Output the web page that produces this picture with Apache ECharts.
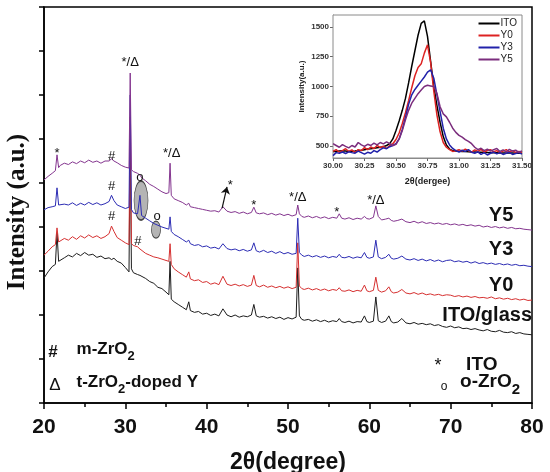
<!DOCTYPE html>
<html>
<head>
<meta charset="utf-8">
<script src="https://cdn.jsdelivr.net/npm/echarts@6/dist/echarts.min.js"></script>
<style>
html, body { margin: 0; padding: 0; background: #fff; }
#chart { width: 550px; height: 472px; }
</style>
</head>
<body>
<div id="chart"></div>
<script>
'use strict';

// main XRD patterns, stacked (arbitrary units, offset per sample)
var twoTheta = [
	20.0, 20.5, 21.0, 21.4, 21.6, 21.8, 22.0,
	22.5, 23.0, 23.5, 24.0, 24.5, 25.0, 25.5, 26.0, 26.5, 27.0, 27.5, 28.0,
	28.3, 28.6, 29.0, 29.5, 30.0,
	30.45, 30.6, 30.75, 31.0, 31.5, 31.8, 32.0,
	32.5, 33.0, 33.5, 34.0, 34.5, 35.0,
	35.35, 35.5, 35.65, 36.0, 36.5, 37.0, 37.5, 37.8, 38.0,
	38.5, 39.0, 39.5, 40.0, 40.5, 41.0, 41.5, 42.0, 42.5, 43.0,
	43.5, 44.0, 44.5, 45.0, 45.5, 45.8, 46.1, 46.5, 47.0,
	47.5, 48.0, 48.5, 49.0, 49.5, 50.0, 50.5, 51.0,
	51.2, 51.4, 51.7, 52.0,
	52.5, 53.0, 53.5, 54.0, 54.5, 55.0, 55.5, 56.0,
	56.3, 56.6, 57.0, 57.5, 58.0, 58.5, 59.0, 59.4, 59.7, 60.0,
	60.5, 60.8, 61.1, 61.5, 62.0, 62.4, 62.7, 63.0,
	63.5, 64.0, 64.5, 65.0, 65.5, 66.0, 66.5, 67.0, 67.5, 68.0,
	68.5, 69.0, 69.5, 70.0, 70.5, 71.0, 71.5, 72.0, 72.5, 73.0,
	73.5, 74.0, 74.5, 75.0, 75.5, 76.0, 76.5, 77.0, 77.5, 78.0,
	78.5, 79.0, 79.5, 80.0
];

var itoGlass = [
	2.84, 2.98, 3.1, 3.15, 3.86, 3.22, 3.25,
	3.3, 3.36, 3.32, 3.4, 3.35, 3.42, 3.36, 3.38, 3.31, 3.34, 3.28, 3.3,
	3.26, 3.29, 3.22, 3.18, 3.08,
	2.98, 6.0, 3.05, 2.96, 2.92, 2.9, 2.86,
	2.83, 2.76, 2.72, 2.63, 2.6, 2.52,
	2.46, 3.22, 2.36, 2.3, 2.24, 2.18, 2.12, 2.3, 2.1,
	2.06, 2.08, 2.02, 2.04, 1.99, 2.02, 1.98, 2.14, 2.0, 1.96,
	2.0, 1.95, 1.98, 1.96, 2.0, 2.24, 1.98, 1.95, 1.97,
	1.93, 1.96, 1.92, 1.95, 1.9, 1.94, 1.91, 1.95,
	3.07, 1.98, 1.9, 1.88,
	1.9, 1.86, 1.89, 1.85, 1.88, 1.84, 1.87, 1.85,
	1.92, 1.85, 1.83, 1.86, 1.82, 1.85, 1.84, 1.98, 1.85, 1.83,
	1.86, 2.41, 1.87, 1.83, 1.86, 1.98, 1.85, 1.82,
	1.84, 1.92, 1.82, 1.8, 1.83, 1.79, 1.81, 1.78, 1.8, 1.76,
	1.78, 1.74, 1.72, 1.75, 1.71, 1.73, 1.69, 1.7, 1.67, 1.69,
	1.66, 1.64, 1.67, 1.63, 1.62, 1.65, 1.61, 1.6, 1.62, 1.58,
	1.6, 1.57, 1.56, 1.55
];

var sampleY0 = [
	3.36, 3.45, 3.55, 3.6, 3.98, 3.66, 3.7,
	3.74, 3.7, 3.78, 3.72, 3.8, 3.75, 3.82, 3.76, 3.8, 3.74, 3.78, 3.85,
	4.02, 3.9, 3.76, 3.7, 3.64,
	3.6, 6.5, 3.62, 3.58, 3.55, 3.5, 3.46,
	3.4, 3.36, 3.32, 3.3, 3.27, 3.24,
	3.22, 3.62, 3.15, 3.05, 2.98, 2.92, 2.86, 2.98, 2.82,
	2.78, 2.8, 2.74, 2.76, 2.7, 2.73, 2.69, 2.88, 2.7, 2.67,
	2.7, 2.66, 2.69, 2.65, 2.68, 2.9, 2.67, 2.64, 2.68,
	2.63, 2.66, 2.62, 2.65, 2.61, 2.64, 2.6, 2.63,
	3.64, 2.66, 2.6, 2.58,
	2.61, 2.57, 2.6, 2.56, 2.59, 2.55, 2.58, 2.56,
	2.62, 2.55, 2.54, 2.57, 2.53, 2.56, 2.54, 2.68, 2.55, 2.53,
	2.56, 2.86, 2.56, 2.52, 2.55, 2.64, 2.53, 2.5,
	2.52, 2.58, 2.5, 2.48, 2.51, 2.47, 2.5, 2.46, 2.48, 2.45,
	2.47, 2.44, 2.46, 2.45, 2.42, 2.44, 2.41, 2.43, 2.4, 2.42,
	2.39, 2.4, 2.38, 2.41, 2.37, 2.39, 2.36, 2.38, 2.35, 2.37,
	2.34, 2.36, 2.33, 2.34
];

var sampleY3 = [
	4.39, 4.44, 4.46, 4.48, 4.89, 4.5, 4.48,
	4.52, 4.5, 4.55, 4.49, 4.54, 4.5, 4.56, 4.51, 4.55, 4.5, 4.53, 4.58,
	4.72, 4.6, 4.5, 4.46, 4.42,
	4.45, 7.0, 4.4, 4.32, 4.3, 4.72, 4.26,
	4.2, 4.14, 4.08, 4.04, 4.0, 3.97,
	3.95, 4.23, 3.9, 3.83, 3.78, 3.72, 3.66, 3.7, 3.62,
	3.58, 3.6, 3.55, 3.57, 3.52, 3.54, 3.5, 3.62, 3.51, 3.48,
	3.5, 3.46, 3.49, 3.45, 3.48, 3.64, 3.46, 3.43, 3.47,
	3.42, 3.45, 3.4, 3.44, 3.39, 3.42, 3.38, 3.4,
	4.2, 3.42, 3.36, 3.33,
	3.36, 3.32, 3.35, 3.31, 3.34, 3.3, 3.33, 3.31,
	3.38, 3.31, 3.3, 3.33, 3.29, 3.32, 3.3, 3.42, 3.31, 3.29,
	3.32, 3.7, 3.32, 3.28, 3.31, 3.38, 3.29, 3.27,
	3.29, 3.34, 3.27, 3.25, 3.28, 3.24, 3.27, 3.23, 3.26, 3.22,
	3.25, 3.21, 3.24, 3.25, 3.21, 3.23, 3.2, 3.22, 3.18, 3.21,
	3.17, 3.19, 3.16, 3.18, 3.15, 3.17, 3.14, 3.16, 3.13, 3.15,
	3.12, 3.13, 3.11, 3.1
];

var sampleY5 = [
	5.07, 5.15, 5.22, 5.28, 5.64, 5.35, 5.4,
	5.45, 5.42, 5.48, 5.44, 5.5, 5.46, 5.52, 5.47, 5.5, 5.45, 5.5, 5.5,
	5.55, 5.5, 5.46, 5.4, 5.36,
	5.34, 7.5, 5.3, 5.26, 5.22, 5.18, 5.12,
	5.05, 4.97, 4.92, 4.86, 4.8, 4.76,
	4.78, 5.45, 4.72, 4.64, 4.6, 4.56, 4.5, 4.54, 4.46,
	4.44, 4.42, 4.4, 4.38, 4.36, 4.37, 4.34, 4.46, 4.36, 4.33,
	4.35, 4.31, 4.34, 4.3, 4.33, 4.45, 4.32, 4.3, 4.32,
	4.28, 4.31, 4.27, 4.3, 4.26, 4.29, 4.25, 4.28,
	4.5, 4.3, 4.24, 4.22,
	4.25, 4.21, 4.24, 4.2, 4.23, 4.19, 4.22, 4.2,
	4.3, 4.2, 4.18, 4.21, 4.17, 4.2, 4.18, 4.24, 4.19, 4.18,
	4.22, 4.48, 4.24, 4.16, 4.18, 4.2, 4.15, 4.13,
	4.15, 4.18, 4.12, 4.1, 4.13, 4.09, 4.12, 4.08, 4.1, 4.07,
	4.09, 4.06, 4.08, 4.05, 4.07, 4.04, 4.06, 4.03, 4.05, 4.02,
	4.04, 4.0, 4.02, 3.99, 4.01, 3.98, 4.0, 3.97, 3.99, 3.96,
	3.97, 3.95, 3.94, 3.93
];

// inset: zoom on the ~30.7 degree reflection
var insetTheta = [
	30, 30.025, 30.05, 30.075, 30.1, 30.125, 30.15, 30.175, 30.2, 30.225,
	30.25, 30.275, 30.3, 30.325, 30.35, 30.375, 30.4, 30.425, 30.45, 30.475,
	30.5, 30.525, 30.55, 30.575, 30.6, 30.625, 30.65, 30.675, 30.7, 30.725,
	30.75, 30.775, 30.8, 30.825, 30.85, 30.875, 30.9, 30.925, 30.95, 30.975,
	31, 31.025, 31.05, 31.075, 31.1, 31.125, 31.15, 31.175, 31.2, 31.225,
	31.25, 31.275, 31.3, 31.325, 31.35, 31.375, 31.4, 31.425, 31.45, 31.475,
	31.5
];
var insetIto = [
	455, 455, 458, 460, 458, 455, 455, 458, 462, 465,
	470, 475, 478, 482, 486, 490, 495, 505, 520, 560,
	630, 710, 800, 900, 1030, 1170, 1300, 1430, 1530, 1550,
	1420, 1210, 1000, 840, 700, 580, 510, 475, 462, 458,
	456, 455, 454, 452, 451, 450, 449, 448, 447, 446,
	445, 445, 444, 443, 443, 442, 441, 441, 440, 440,
	440
];
var insetY0 = [
	455, 470, 448, 462, 478, 455, 468, 445, 470, 462,
	488, 470, 492, 478, 505, 488, 498, 480, 505, 520,
	555, 610, 690, 780, 880, 990, 1090, 1160, 1190, 1280,
	1350, 1200, 960, 760, 620, 530, 490, 470, 455, 462,
	470, 458, 475, 462, 450, 468, 455, 472, 448, 465,
	470, 452, 462, 445, 458, 470, 450, 462, 445, 455,
	448
];
var insetY3 = [
	420, 445, 440, 450, 438, 452, 445, 440, 458, 445,
	432, 448, 440, 462, 450, 470, 485, 478, 495, 505,
	520, 560, 640, 740, 850, 930, 975, 1010, 1045, 1080,
	1120, 1140, 1070, 930, 790, 650, 560, 510, 480, 462,
	450, 465, 455, 470, 448, 440, 452, 430, 445, 425,
	440, 450, 435, 445, 430, 440, 448, 430, 438, 445,
	432
];
var insetY5 = [
	520, 505, 490, 512, 498, 485, 505, 492, 530, 510,
	498, 515, 505, 525, 510, 530, 518, 535, 520, 505,
	515, 560, 630, 720, 800, 860, 900, 940, 970, 1000,
	1010, 1005, 1000, 940, 830, 770, 745, 700, 650, 615,
	590, 575, 555, 540, 520, 490, 470, 482, 462, 475,
	458, 470, 480, 455, 468, 450, 472, 458, 465, 448,
	460
];
var insetTicks = [500, 750, 1000, 1250, 1500];

// peak markers [2theta, offset, text]
var peakNotes = [
	[21.6, 5.68, '*'],
	[28.3, 5.61, '#'],
	[28.3, 4.93, '#'],
	[28.3, 4.23, '#'],
	[31.55, 3.68, '#'],
	[31.8, 5.12, 'o'],
	[33.9, 4.25, 'o'],
	[30.6, 7.73, '*/\u0394'],
	[35.7, 5.68, '*/\u0394'],
	[42.9, 4.95, '*'],
	[45.8, 4.48, '*'],
	[51.2, 4.68, '*/\u0394'],
	[56.0, 4.32, '*'],
	[60.8, 4.61, '*/\u0394']
];
var ellipseNotes = [
	[31.93, 4.6, 14, 39],
	[33.77, 3.94, 9, 17]
];
var arrowFrom = [41.9, 4.43],
		arrowTo = [42.5, 4.91];

var traceLabels = [
	[76.2, 4.27, 'Y5'],
	[76.2, 3.48, 'Y3'],
	[76.2, 2.68, 'Y0']
];

var colors = {
	ito: '#1c1c1c',
	y0: '#d63030',
	y3: '#2c2cb4',
	y5: '#84358f'
};

var sans = 'Liberation Sans, Arial, sans-serif';
var ink = '#111';

function pairs(xs, ys) {
	var out = [];
	for (var i = 0; i < xs.length && i < ys.length; i++) {
		out.push([xs[i], ys[i]]);
	}
	return out;
}

function mainLine(name, values, color) {
	return {
		name: name,
		type: 'line',
		xAxisIndex: 0,
		yAxisIndex: 0,
		data: pairs(twoTheta, values),
		symbol: 'none',
		silent: true,
		lineStyle: {width: 1, color: color},
		itemStyle: {color: color},
		z: 3
	};
}

function insetLine(name, values, color) {
	return {
		name: name,
		type: 'line',
		xAxisIndex: 1,
		yAxisIndex: 1,
		data: pairs(insetTheta, values),
		symbol: 'none',
		silent: true,
		lineStyle: {width: 1.5, color: color},
		itemStyle: {color: color},
		z: 5
	};
}

function textItem(x, y, text, label) {
	var base = {show: true, formatter: text, color: ink, textBorderWidth: 0, fontFamily: sans};
	return {value: [x, y], label: Object.assign(base, label)};
}

var subRich = {
	b: {fontSize: 17, fontWeight: 'bold', fontFamily: sans, color: ink, verticalAlign: 'top'},
	s: {fontSize: 13, fontWeight: 'bold', fontFamily: sans, color: ink, verticalAlign: 'top', padding: [9, 0, 0, 0]},
	B: {fontSize: 19, fontWeight: 'bold', fontFamily: sans, color: ink, verticalAlign: 'top'},
	S: {fontSize: 15, fontWeight: 'bold', fontFamily: sans, color: ink, verticalAlign: 'top', padding: [10, 0, 0, 0]}
};

var keyItems = [
	textItem(21.1, 1.16, '#', {fontSize: 17, fontWeight: 'bold', position: 'inside'}),
	textItem(24.0, 1.16, '{b|m-ZrO}{s|2}', {position: 'right', distance: 0, rich: subRich}),
	textItem(21.35, 0.41, '\u0394', {fontSize: 17, position: 'inside'}),
	textItem(24.0, 0.41, '{b|t-ZrO}{s|2}{b|-doped Y}', {position: 'right', distance: 0, rich: subRich}),
	textItem(68.45, 0.84, '*', {fontSize: 18, position: 'inside'}),
	textItem(71.9, 0.86, '{B|ITO}', {position: 'right', distance: 0, rich: subRich}),
	textItem(69.2, 0.38, 'o', {fontSize: 12, position: 'inside'}),
	textItem(71.15, 0.41, '{B|o-ZrO}{S|2}', {position: 'right', distance: 0, rich: subRich})
];

var noteItems = peakNotes.map(function (n) {
	return textItem(n[0], n[1], n[2], {position: 'inside', fontSize: 13});
});

var nameItems = traceLabels.map(function (n) {
	return textItem(n[0], n[1], n[2], {position: 'inside', fontSize: 20, fontWeight: 'bold'});
});
nameItems.push(textItem(80, 2.0, 'ITO/glass', {position: 'left', distance: 0, fontSize: 20, fontWeight: 'bold'}));

var chart = echarts.init(document.getElementById('chart'), null, {renderer: 'canvas'});

chart.setOption({
	animation: false,
	backgroundColor: '#fff',
	textStyle: {fontFamily: sans},
	grid: [
		{
			left: 44, top: 7, right: 18, bottom: 69,
			outerBoundsMode: 'none',
			show: true, borderColor: '#000', borderWidth: 1.5
		},
		{
			left: 333, top: 15, width: 189, height: 143,
			outerBoundsMode: 'none',
			show: true, backgroundColor: '#fff', borderColor: '#8a8a8a', borderWidth: 1, z: 4
		}
	],
	legend: {
		data: ['ITO', 'Y0', 'Y3', 'Y5'],
		orient: 'vertical',
		right: 33,
		top: 18,
		padding: 0,
		itemGap: 1,
		itemWidth: 21,
		itemHeight: 2,
		icon: 'rect',
		selectedMode: false,
		textStyle: {fontSize: 10, color: '#222', padding: [0, 0, 0, -4], lineHeight: 11},
		z: 6
	},
	xAxis: [
		{
			type: 'value',
			gridIndex: 0,
			min: 20,
			max: 80,
			interval: 10,
			name: '2\u03b8(degree)',
			nameLocation: 'middle',
			nameGap: 48,
			nameTextStyle: {fontSize: 23, fontWeight: 'bold', color: ink, fontFamily: sans},
			axisLine: {lineStyle: {color: '#000', width: 1.5}},
			axisTick: {length: 6, lineStyle: {color: '#000', width: 1.5}},
			minorTick: {show: true, splitNumber: 2, length: 4, lineStyle: {color: '#000', width: 1.5}},
			axisLabel: {fontSize: 21, fontWeight: 'bold', color: ink, margin: 14},
			splitLine: {show: false}
		},
		{
			type: 'value',
			gridIndex: 1,
			min: 30,
			max: 31.5,
			interval: 0.25,
			name: '2\u03b8(dergee)',
			nameLocation: 'middle',
			nameGap: 19,
			nameTextStyle: {fontSize: 9, fontWeight: 'bold', color: '#222'},
			axisLine: {lineStyle: {color: '#8a8a8a', width: 1}},
			axisTick: {length: 3, lineStyle: {color: '#666'}},
			axisLabel: {
				fontSize: 8,
				fontWeight: 'bold',
				color: '#333',
				margin: 4,
				formatter: function (v) { return v.toFixed(2); }
			},
			splitLine: {show: false}
		}
	],
	yAxis: [
		{
			type: 'value',
			gridIndex: 0,
			min: 0,
			max: 9,
			interval: 1,
			name: 'Intensity (a.u.)',
			nameLocation: 'middle',
			nameGap: 14,
			nameTextStyle: {fontSize: 25, fontWeight: 'bold', color: ink, fontFamily: 'Liberation Serif, Times New Roman, serif', padding: [0, 14, 0, 0]},
			axisLine: {lineStyle: {color: '#000', width: 1.5}},
			axisTick: {length: 5, lineStyle: {color: '#000', width: 1.5}},
			axisLabel: {show: false},
			splitLine: {show: false}
		},
		{
			type: 'value',
			gridIndex: 1,
			min: 400,
			max: 1600,
			name: 'Intensity(a.u.)',
			nameLocation: 'middle',
			nameGap: 27,
			nameTextStyle: {fontSize: 8, fontWeight: 'bold', color: '#222'},
			axisLine: {lineStyle: {color: '#8a8a8a', width: 1}},
			axisTick: {length: 3, customValues: insetTicks, lineStyle: {color: '#666'}},
			axisLabel: {
				fontSize: 8,
				fontWeight: 'bold',
				color: '#333',
				margin: 4,
				customValues: insetTicks,
				formatter: function (v) { return String(v); }
			},
			splitLine: {show: false}
		}
	],
	series: [
		{
			type: 'scatter',
			xAxisIndex: 0,
			yAxisIndex: 0,
			silent: true,
			z: 1,
			itemStyle: {color: '#b4b4b4', borderColor: '#444', borderWidth: 1, opacity: 1},
			data: ellipseNotes.map(function (e) {
				return {value: [e[0], e[1]], symbolSize: [e[2], e[3]]};
			})
		},
		mainLine('ITO/glass pattern', itoGlass, colors.ito),
		mainLine('Y0 pattern', sampleY0, colors.y0),
		mainLine('Y3 pattern', sampleY3, colors.y3),
		mainLine('Y5 pattern', sampleY5, colors.y5),
		{
			type: 'scatter',
			xAxisIndex: 0,
			yAxisIndex: 0,
			silent: true,
			symbolSize: 0,
			z: 4,
			itemStyle: {opacity: 1},
			data: noteItems.concat(nameItems, keyItems),
			markLine: {
				silent: true,
				symbol: ['none', 'arrow'],
				symbolSize: 7,
				label: {show: false},
				lineStyle: {color: '#111', width: 1.2, type: 'solid', opacity: 1},
				data: [[{coord: arrowFrom}, {coord: arrowTo}]]
			}
		},
		insetLine('ITO', insetIto, '#000'),
		insetLine('Y0', insetY0, '#dd2222'),
		insetLine('Y3', insetY3, '#2222aa'),
		insetLine('Y5', insetY5, '#7b2d7d')
	]
});
</script>
</body>
</html>
